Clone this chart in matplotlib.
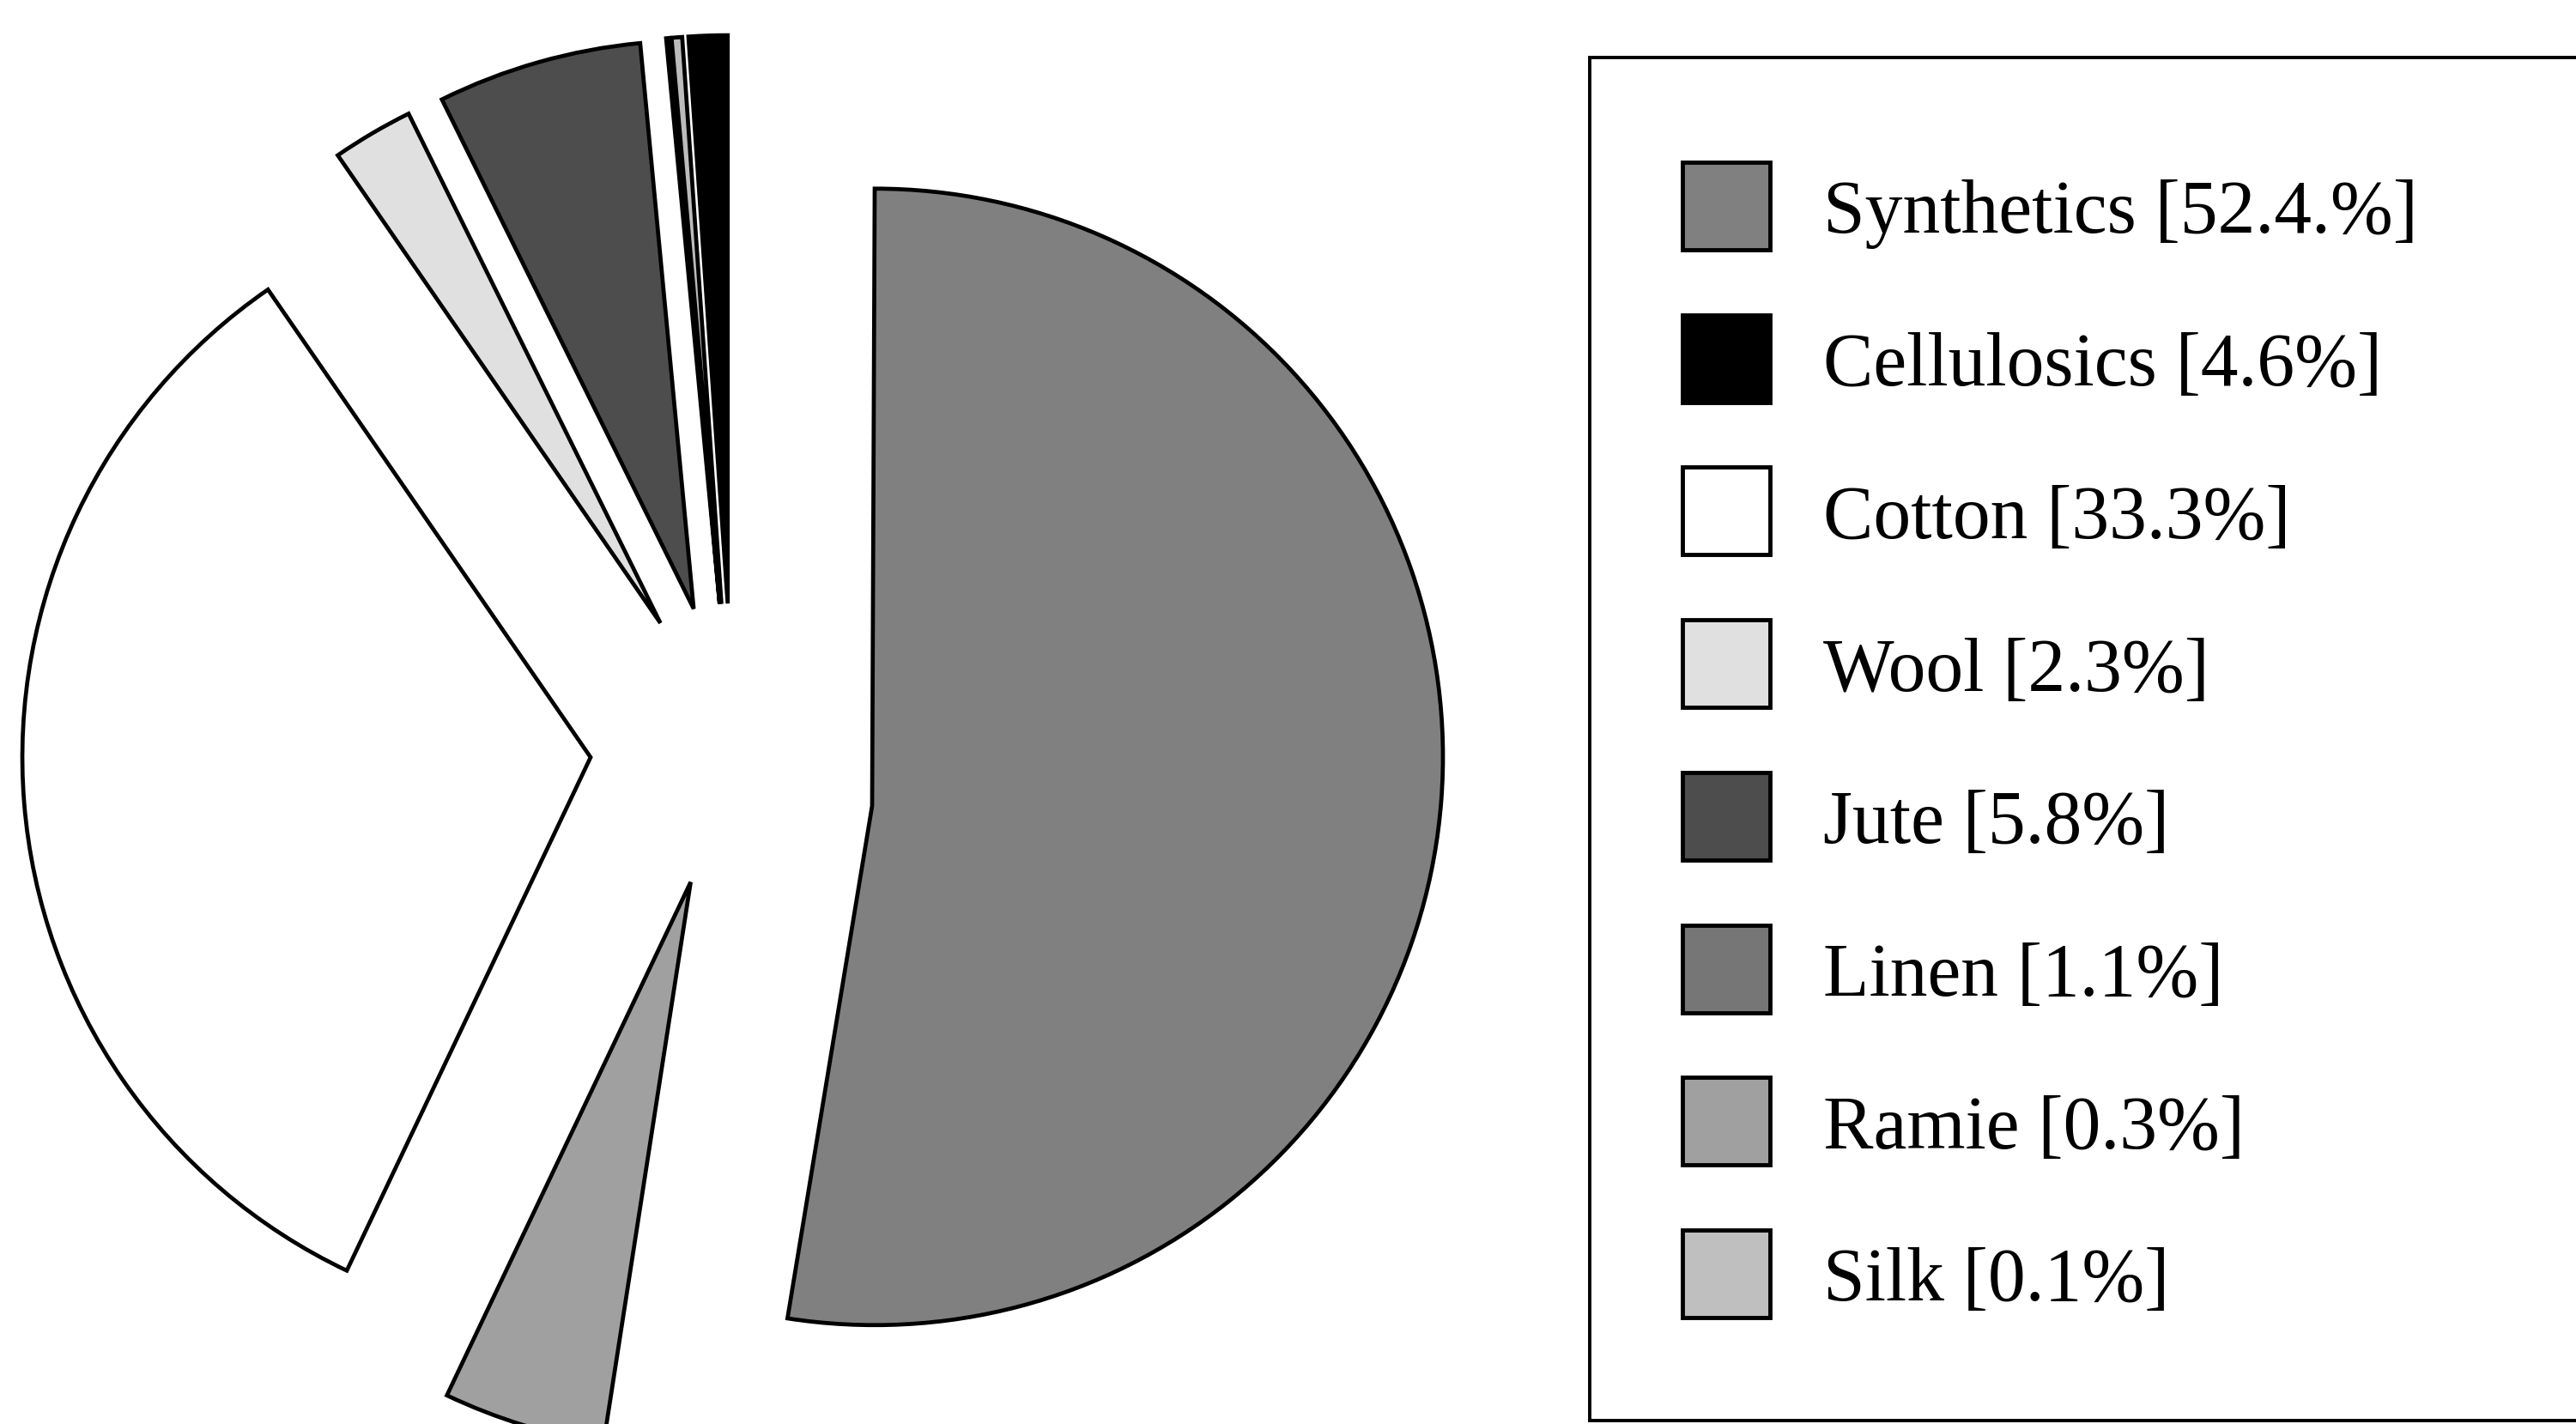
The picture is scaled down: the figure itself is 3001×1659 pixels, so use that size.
import matplotlib
matplotlib.use("Agg")
import matplotlib.pyplot as plt
from matplotlib.patches import Rectangle, PathPatch
from matplotlib.path import Path
import numpy as np

# ---- data ----
categories = ["Synthetics", "Cellulosics", "Cotton", "Wool", "Jute", "Linen", "Ramie", "Silk"]
shares = [52.4, 4.6, 33.3, 2.3, 5.8, 1.1, 0.3, 0.1]
legend_labels = ["Synthetics [52.4.%]", "Cellulosics [4.6%]", "Cotton [33.3%]", "Wool [2.3%]",
                 "Jute [5.8%]", "Linen [1.1%]", "Ramie [0.3%]", "Silk [0.1%]"]
legend_colors = ["#808080", "#000000", "#ffffff", "#e0e0e0", "#4d4d4d", "#767676", "#a0a0a0", "#bfbfbf"]
# colours as they appear on the pie slices
wedge_colors = ["#808080", "#a0a0a0", "#ffffff", "#e0e0e0", "#4d4d4d", "#000000", "#bcbcbc", "#bcbcbc"]
# clockwise order of the slices from 12 o'clock
pie_order = [0, 1, 2, 3, 4, 7, 6, 5]

W, H = 3001, 1659
fig = plt.figure(figsize=(W / 100, H / 100), dpi=100)
ax = fig.add_axes([0, 0, 1, 1])

LW = 3.4
vals = [shares[i] for i in pie_order]
cols = [wedge_colors[i] for i in pie_order]
wedges, _ = ax.pie(vals, colors=cols, explode=[166] * len(vals), radius=662,
                   center=(853.5, 790), startangle=90, counterclock=False,
                   wedgeprops=dict(edgecolor="black", linewidth=LW, joinstyle="miter"))

# the large slice's straight edges meet slightly below its arc centre in the original
big = wedges[0]
verts = big.get_path().vertices.copy()
codes = big.get_path().codes
cx, cy = big.center
near = np.hypot(verts[:, 0] - cx, verts[:, 1] - cy) < 1e-6
verts[near] = verts[near] + np.array([-3.0, -57.0])
pp = PathPatch(Path(verts, codes), facecolor=big.get_facecolor(), edgecolor="black",
               linewidth=LW, joinstyle="miter")
big.remove()
ax.add_patch(pp)

ax.set_xlim(0, W)
ax.set_ylim(0, H)
ax.set_aspect("equal", adjustable="box")
ax.axis("off")

# ---- legend ----
box_left, box_top, box_bottom = 1852, 67, 1655
ax.add_patch(Rectangle((box_left, H - box_bottom), 1300, box_bottom - box_top,
                       facecolor="white", edgecolor="black", linewidth=2.8, zorder=5))
sq = 102
row0_center = 240
row_step = 177.7
for i, (lab, c) in enumerate(zip(legend_labels, legend_colors)):
    yc = row0_center + row_step * i
    ax.add_patch(Rectangle((1960, H - yc - sq / 2), sq, sq, facecolor=c,
                           edgecolor="black", linewidth=3.5, zorder=6))
    ax.text(2124, H - (yc + 31.5), lab, fontsize=63, family="Liberation Serif",
            ha="left", va="baseline", zorder=7)

fig.savefig("out.png", dpi=100)
